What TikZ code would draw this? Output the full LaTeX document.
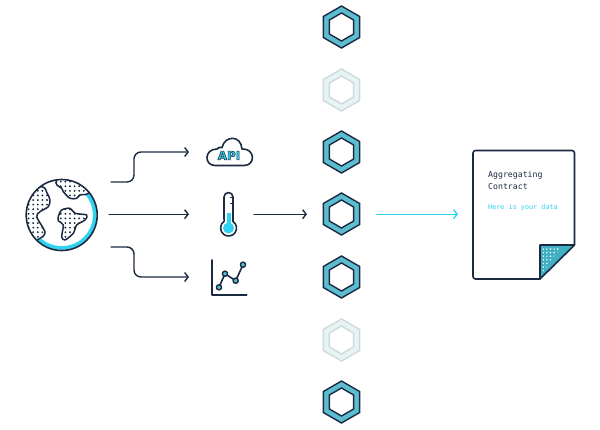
\documentclass[tikz,border=0pt]{standalone}
\usepackage{xcolor}
\usepackage{fontspec}
\setmonofont{DejaVu Sans Mono}
\setsansfont{DejaVu Sans}
\usetikzlibrary{positioning, shapes.geometric, arrows.meta}
\definecolor{inkblue}{HTML}{1B2A41}
\definecolor{hexblue}{HTML}{5CBDD1}
\definecolor{foldblue}{HTML}{3FAFC1}
\definecolor{brightcyan}{HTML}{2FD3F0}
\definecolor{fadegray}{HTML}{CFD8DA}
\definecolor{fadeblue}{HTML}{E6F4F6}
\newcommand{\dotfield}{\foreach \x in {24,28.6,...,100}
	\foreach \y in {177,181.6,...,252}
		\fill[inkblue] (\x,\y) circle (1.05);}
\def\landleft{(41.7,186.7) (47,193) (50,200) (48.3,206.7) (40,211.7) (36.7,216.7) (43.3,228.3) (45,233.3) (40,238.3) (20,245) (15,190)}
\def\landtop{(56.7,180) (57,185) (61.7,188.3) (63.3,191.7) (70,198.3) (76.7,198.3) (80,195) (88.3,193.3) (95,180) (70,170)}
\def\landmid{(58.3,216.7) (61.7,210) (70,208.3) (75,213.3) (86.7,215) (85,220) (76.7,225) (73.3,233.3) (65,240) (61.7,236.7) (63.3,225) (58.5,221)}
\tikzset{
	line/.style={draw=inkblue, line width=1.6pt, line cap=round, line join=round},
	flow/.style={line, line width=1.4pt, -{Straight Barb[length=3.5pt, width=9pt]}, rounded corners=7pt},
	hexouter/.style={regular polygon, regular polygon sides=6, shape border rotate=30, inner sep=0pt, minimum size=42pt, fill=hexblue, draw=inkblue, line width=1.4pt},
	hexinner/.style={regular polygon, regular polygon sides=6, shape border rotate=30, inner sep=0pt, minimum size=28pt, fill=white, draw=inkblue, line width=1.4pt},
	hexfaintouter/.style={hexouter, fill=fadeblue, draw=fadegray},
	hexfaintinner/.style={hexinner, draw=fadegray},
}
\begin{document}
\begin{tikzpicture}[x=1pt, y=-1pt]
\useasboundingbox (0,0) rectangle (600,429);

% hexagons
\foreach \n/\y in {1/27,3/152,4/214,5/277,7/402}
{
	\node[hexouter] (hex\n) at (341.5,\y) {};
	\node[hexinner] (hexin\n) at (341.5,\y) {};
}
\foreach \n/\y in {2/90,6/340}
{
	\node[hexfaintouter] (hex\n) at (341.5,\y) {};
	\node[hexfaintinner] (hexin\n) at (341.5,\y) {};
}

% globe
\coordinate (globe) at (61.7,215);
\begin{scope}
	\clip (globe) circle (35.5);
	\draw[brightcyan, line width=3.6pt] (globe) ++(-39:33) arc (-39:133:33);
	\foreach \land in {\landleft,\landtop,\landmid}
	{
		\begin{scope}
			\clip plot[smooth cycle, tension=0.5] coordinates {\land};
			\dotfield
		\end{scope}
		\draw[line, line width=1.5pt] plot[smooth cycle, tension=0.5] coordinates {\land};
	}
\end{scope}
\draw[line] (globe) circle (35.5);

% arrows from globe
\coordinate (srctop) at (111,182);
\coordinate (srcmid) at (109,214.2);
\coordinate (srcbot) at (111,247);
\coordinate (apiin) at (189,152);
\coordinate (tempin) at (189,214.2);
\coordinate (chartin) at (189,277);
\draw[flow] (srctop) -- (134,182) -- (134,152) -- (apiin);
\draw[flow] (srcmid) -- (tempin);
\draw[flow] (srcbot) -- (134,247) -- (134,277) -- (chartin);

% cloud
\draw[line] (215,165.5) .. controls (204,165.5) and (204,149) .. (217,149) .. controls (218,147.5) and (220,147) .. (222,147.5) .. controls (225,135) and (241,135) .. (242,149) .. controls (255,148) and (256,165.5) .. (244,165.5) -- cycle;
\node[inner sep=0pt, font=\sffamily\bfseries\fontsize{12}{12}\selectfont] (apilabel) at (229,155.5) {\special{pdf:code 2 Tr 0.6 w 0.106 0.165 0.255 RG 0.18 0.83 0.94 rg}API\special{pdf:code 0 Tr}};

% thermometer
\fill[brightcyan] (228.5,228) circle (5.5);
\fill[brightcyan] (226.5,213) rectangle (230.5,226);
\draw[line] (224,197) arc (180:360:4.5) -- (233,221.4) arc (-56:236:8) -- cycle;
\draw[line, line width=1pt] (230.5,197) -- (233,197) (230.5,203) -- (233,203);

% chart
\draw[line] (211.7,260) -- (211.7,294.7) -- (246.7,294.7);
\coordinate (pa) at (219,287.3);
\coordinate (pb) at (225,273.7);
\coordinate (pc) at (235.7,280.7);
\coordinate (pd) at (243,264.7);
\draw[line] (pa) -- (pb) -- (pc) -- (pd);
\foreach \p in {pa,pb,pc,pd}
	\draw[line, line width=1.4pt, fill=hexblue] (\p) circle (2.6);

% arrow into hex4 and out
\coordinate (tempout) at (254,214.2);
\coordinate (hexinl) at (307,214.2);
\draw[flow] (tempout) -- (hexinl);
\coordinate (hexout) at (377,214.2);
\coordinate (docin) at (458,214.2);
\draw[flow, draw=brightcyan] (hexout) -- (docin);

% document
\draw[line, fill=white, rounded corners=2.5pt] (540,279) -- (473,279) -- (473,150.5) -- (574.5,150.5) -- (574.5,245);
\draw[line, fill=foldblue] (540,279) -- (540,245) -- (574.5,245) -- cycle;
\begin{scope}
	\clip (541,247) -- (561,247) -- (541,275) -- cycle;
	\foreach \x in {543.3,546.9,...,560}
		\foreach \y in {249,252.6,...,274}
			\fill[white] (\x,\y) circle (0.8);
\end{scope}
\node[anchor=north west, inner sep=0pt, align=left, text=inkblue, font=\ttfamily\fontsize{8.2}{12}\selectfont] (doctitle) at (488,171.5) {Aggregating\\Contract};
\node[anchor=west, inner sep=0pt, text=brightcyan, font=\ttfamily\fontsize{6.8}{8}\selectfont] (docdata) at (488,208) {Here is your data};
\end{tikzpicture}
\end{document}
